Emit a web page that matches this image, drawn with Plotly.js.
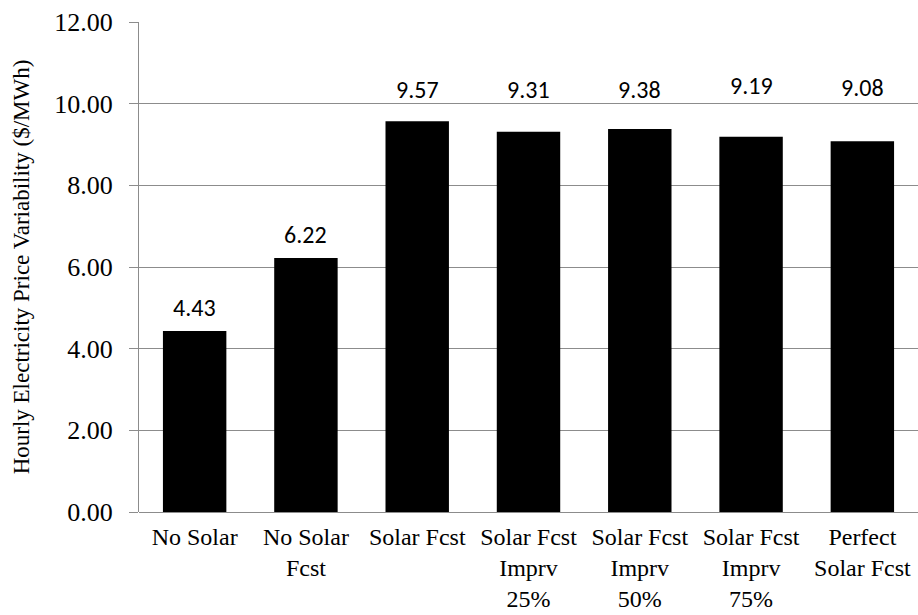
<!DOCTYPE html>
<html>
<head>
<meta charset="utf-8">
<script src="https://cdn.plot.ly/plotly-3.0.1.min.js"></script>
<style>html,body{margin:0;padding:0;background:#fff;}#chart{width:918px;height:615px;}</style>
</head>
<body>
<div id="chart"></div>
<script>
var categories = ["No Solar", "No Solar<br>Fcst", "Solar Fcst", "Solar Fcst<br>Imprv<br>25%", "Solar Fcst<br>Imprv<br>50%", "Solar Fcst<br>Imprv<br>75%", "Perfect<br>Solar Fcst"];
var values = [4.43, 6.22, 9.57, 9.31, 9.38, 9.19, 9.08];
var labels = ["4.43", "6.22", "9.57", "9.31", "9.38", "9.19", "9.08"];
var yTicks = [0, 2, 4, 6, 8, 10, 12];
var yTickText = ["0.00", "2.00", "4.00", "6.00", "8.00", "10.00", "12.00"];

// style: pixel lift of each value label above its bar (labels were placed by hand in the original)
var labelLift = [7, 7, 15, 26, 23, 35, 37];

var trace = {
  type: "bar",
  x: categories,
  y: values,
  marker: {color: "#000000"},
  hoverinfo: "none"
};

var annotations = categories.map(function (c, i) {
  return {
    x: c, y: values[i], xref: "x", yref: "y",
    text: labels[i], showarrow: false,
    yanchor: "bottom", yshift: labelLift[i],
    font: {family: "Carlito, 'Noto Sans', 'Open Sans', sans-serif", size: 24, color: "#000"}
  };
});

var layout = {
  width: 918, height: 615,
  margin: {l: 139, r: 0, t: 22, b: 103},
  paper_bgcolor: "#fff", plot_bgcolor: "#fff",
  bargap: 0.43,
  showlegend: false,
  font: {family: "'Liberation Serif', 'Times New Roman', serif", color: "#000"},
  xaxis: {
    type: "category",
    showgrid: false,
    showline: false,
    ticks: "",
    ticklabelstandoff: 8,
    tickfont: {family: "'Liberation Serif', serif", size: 24, color: "#000"},
    fixedrange: true
  },
  yaxis: {
    range: [0, 12],
    tickvals: yTicks,
    ticktext: yTickText,
    showgrid: true,
    gridcolor: "#8c8c8c",
    gridwidth: 1,
    showline: true,
    linecolor: "#8c8c8c",
    linewidth: 1,
    ticks: "outside",
    ticklen: 9,
    tickcolor: "#8c8c8c",
    ticklabelstandoff: 11,
    zeroline: true,
    zerolinecolor: "#8c8c8c",
    zerolinewidth: 1,
    tickfont: {family: "'Liberation Serif', serif", size: 26, color: "#000"},
    title: {text: "Hourly Electricity Price Variability ($/MWh)", font: {family: "'Liberation Serif', serif", size: 23, color: "#000"}, standoff: 18},
    fixedrange: true
  },
  annotations: annotations
};

Plotly.newPlot("chart", [trace], layout, {displayModeBar: false, staticPlot: true});
</script>
</body>
</html>
